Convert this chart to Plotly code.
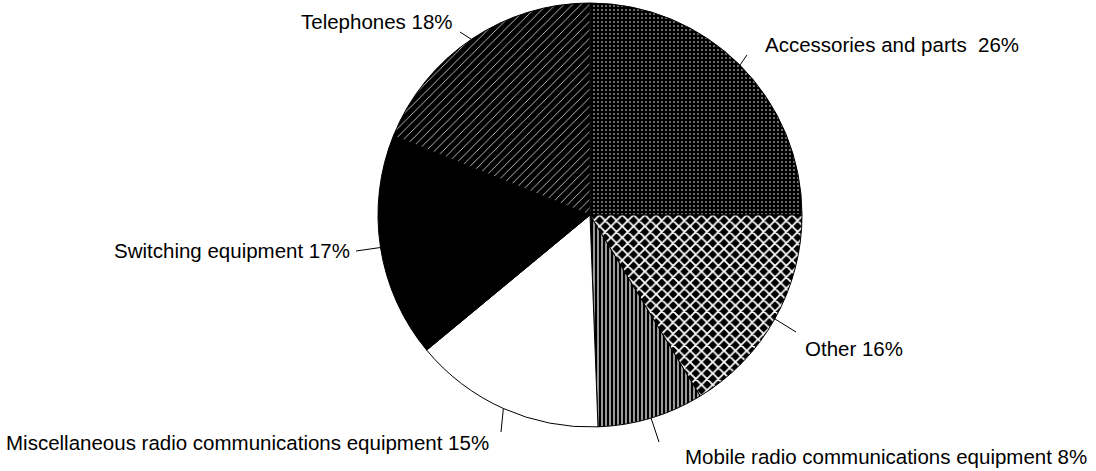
import math
import plotly.graph_objects as go

categories = ["Accessories and parts", "Other", "Mobile radio communications equipment",
              "Miscellaneous radio communications equipment", "Switching equipment", "Telephones"]
# slice sizes (angles), labels carry the printed percentages
shares = [25.0, 16.3, 8.1, 14.6, 17.1, 18.9]
label_texts = ["Accessories and parts  26%", "Other 16%", "Mobile radio communications equipment 8%",
               "Miscellaneous radio communications equipment 15%", "Switching equipment 17%", "Telephones 18%"]

W, H = 1096, 471
CX, CY, R = 590, 215, 212
# layout: leader-line outer end (px), text anchor (px), horizontal anchor
line_ends = [(747, 55), (796, 332), (659, 442), (501, 432), (356, 251), (460, 32)]
text_anchor = [(763, 45), (803, 348), (683, 456), (491, 442), (352, 250), (455, 22)]
text_xanchor = ["left", "left", "left", "right", "right", "right"]

slice_colors = ["black", "black", "black", "white", "black", "black"]
pat_shapes = [".", "x", "|", "", "", "/"]
pat_fg = ["white"] * 6
pat_bg = ["black", "black", "black", "white", "black", "black"]
pat_size = [4, 8, 4, 8, 8, 6]
pat_sol = [0.12, 0.4, 0.3, 0.3, 0.3, 0.12]

fig = go.Figure(go.Pie(
    labels=categories, values=shares, sort=False, direction="clockwise", rotation=0,
    textinfo="none", hoverinfo="label", showlegend=False,
    marker=dict(colors=slice_colors, line=dict(color="black", width=1),
                pattern=dict(shape=pat_shapes, fgcolor=pat_fg, bgcolor=pat_bg,
                             size=pat_size, solidity=pat_sol, fillmode="replace")),
    domain=dict(x=[(CX - R) / W, (CX + R) / W], y=[1 - (CY + R) / H, 1 - (CY - R) / H]),
))

total = sum(shares)
cum = 0
annotations, shapes = [], []
font = dict(family="Liberation Sans, Arial, sans-serif", size=20.5, color="black")
for v, txt, (ox, oy), (tx, ty), xa in zip(shares, label_texts, line_ends, text_anchor, text_xanchor):
    mid = (cum + v / 2) / total * 2 * math.pi
    cum += v
    ex = CX + R * math.sin(mid)
    ey = CY - R * math.cos(mid)
    shapes.append(dict(type="line", xref="paper", yref="paper",
                       x0=ex / W, y0=1 - ey / H, x1=ox / W, y1=1 - oy / H,
                       line=dict(color="black", width=1)))
    annotations.append(dict(x=tx / W, y=1 - ty / H, xref="paper", yref="paper",
                            text=txt, showarrow=False, xanchor=xa, yanchor="middle",
                            font=font))

fig.update_layout(
    width=W, height=H, margin=dict(l=0, r=0, t=0, b=0),
    paper_bgcolor="white", plot_bgcolor="white",
    annotations=annotations, shapes=shapes,
)
fig.write_html("out.html", post_script="document.body.style.margin='0';",
               config={"displayModeBar": False})
